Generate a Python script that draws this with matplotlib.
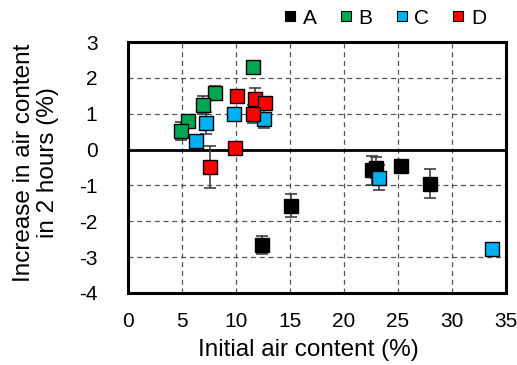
import matplotlib
matplotlib.use("Agg")
import matplotlib.pyplot as plt
from matplotlib.lines import Line2D

plt.rcParams['font.family'] = ['Liberation Sans', 'DejaVu Sans']
plt.rcParams['axes.unicode_minus'] = False

# Series A (black)
a_x = [12.4, 15.1, 22.6, 23.0, 25.3, 28.0]
a_y = [-2.65, -1.57, -0.58, -0.5, -0.45, -0.95]
a_yerr = [0.25, 0.32, 0.4, 0.3, 0.1, 0.4]
a_xerr = [0.0, 0.0, 0.0, 0.0, 0.0, 0.0]
# Series B (green)
b_x = [11.55, 8.1, 6.9, 5.6, 4.9]
b_y = [2.3, 1.59, 1.25, 0.8, 0.52]
b_yerr = [0.05, 0.18, 0.25, 0.05, 0.25]
b_xerr = [0.25, 0.0, 0.0, 0.0, 0.0]
# Series C (blue)
c_x = [7.25, 6.3, 9.8, 12.55, 23.25, 33.7]
c_y = [0.74, 0.25, 0.98, 0.85, -0.78, -2.78]
c_yerr = [0.3, 0.1, 0.1, 0.25, 0.35, 0.0]
c_xerr = [0.0, 0.0, 0.0, 0.0, 0.0, 0.0]
# Series D (red)
d_x = [10.1, 11.8, 12.7, 11.55, 9.9, 7.6]
d_y = [1.5, 1.42, 1.31, 0.98, 0.05, -0.49]
d_yerr = [0.05, 0.3, 0.1, 0.25, 0.05, 0.58]
d_xerr = [0.0, 0.0, 0.0, 0.0, 0.0, 0.25]

series = [
    ("A", a_x, a_y, a_xerr, a_yerr, "#000000"),
    ("B", b_x, b_y, b_xerr, b_yerr, "#00A651"),
    ("C", c_x, c_y, c_xerr, c_yerr, "#00B0F0"),
    ("D", d_x, d_y, d_xerr, d_yerr, "#FF0000"),
]

fig = plt.figure(figsize=(5.17, 3.65), dpi=100)
ax = fig.add_axes([128/517, 1 - 293/365, (506-128)/517, (293-42)/365])

for name, xs, ys, xe, ye, col in series:
    ax.errorbar(xs, ys, xerr=xe, yerr=ye, fmt='none', ecolor='#404040',
                elinewidth=1.2, capsize=4, capthick=1.2, zorder=3)
    ax.plot(xs, ys, linestyle='none', marker='s', markersize=10,
            markerfacecolor=col, markeredgecolor='#000000',
            markeredgewidth=1.0, zorder=4)

ax.set_xlim(0, 35)
ax.set_ylim(-4, 3)
ax.set_xticks(range(0, 36, 5))
ax.set_yticks(range(-4, 4))
ax.tick_params(axis='x', length=0, labelsize=15, pad=14)
ax.tick_params(axis='y', length=0, labelsize=15, pad=22)
for v in range(5, 35, 5):
    ax.axvline(v, color='#555555', linestyle=(0, (4, 3)), linewidth=0.9, zorder=1)
for v in range(-3, 3):
    if v != 0:
        ax.axhline(v, color='#555555', linestyle=(0, (4, 3)), linewidth=0.9, zorder=1)
ax.axhline(0, color='black', linewidth=2, zorder=2)
for s in ax.spines.values():
    s.set_linewidth(2.2)
    s.set_color('black')

ax.set_xlabel("Initial air content (%)", fontsize=17.5)
ax.xaxis.set_label_coords((308-128)/378, (293-350)/251)
ax.xaxis.label.set_va('center')
ax.set_ylabel("Increase in air content\nin 2 hours (%)", fontsize=17.5, linespacing=1.1)
ax.yaxis.set_label_coords((36-128)/378, (293-163)/251)
ax.yaxis.label.set_va('center')
ax.yaxis.label.set_ha('center')

handles = [Line2D([], [], linestyle='none', marker='s', markersize=7.5,
                  markerfacecolor=col, markeredgecolor='black', markeredgewidth=0.8)
           for _, _, _, _, _, col in series]
fig.legend(handles, [s[0] for s in series], loc='center', bbox_to_anchor=(384/517, 1 - 18/365),
           ncol=4, frameon=False, fontsize=15, handletextpad=0.2, columnspacing=1.0,
           handlelength=0.8, borderaxespad=0)

fig.savefig("out.png", dpi=100)
